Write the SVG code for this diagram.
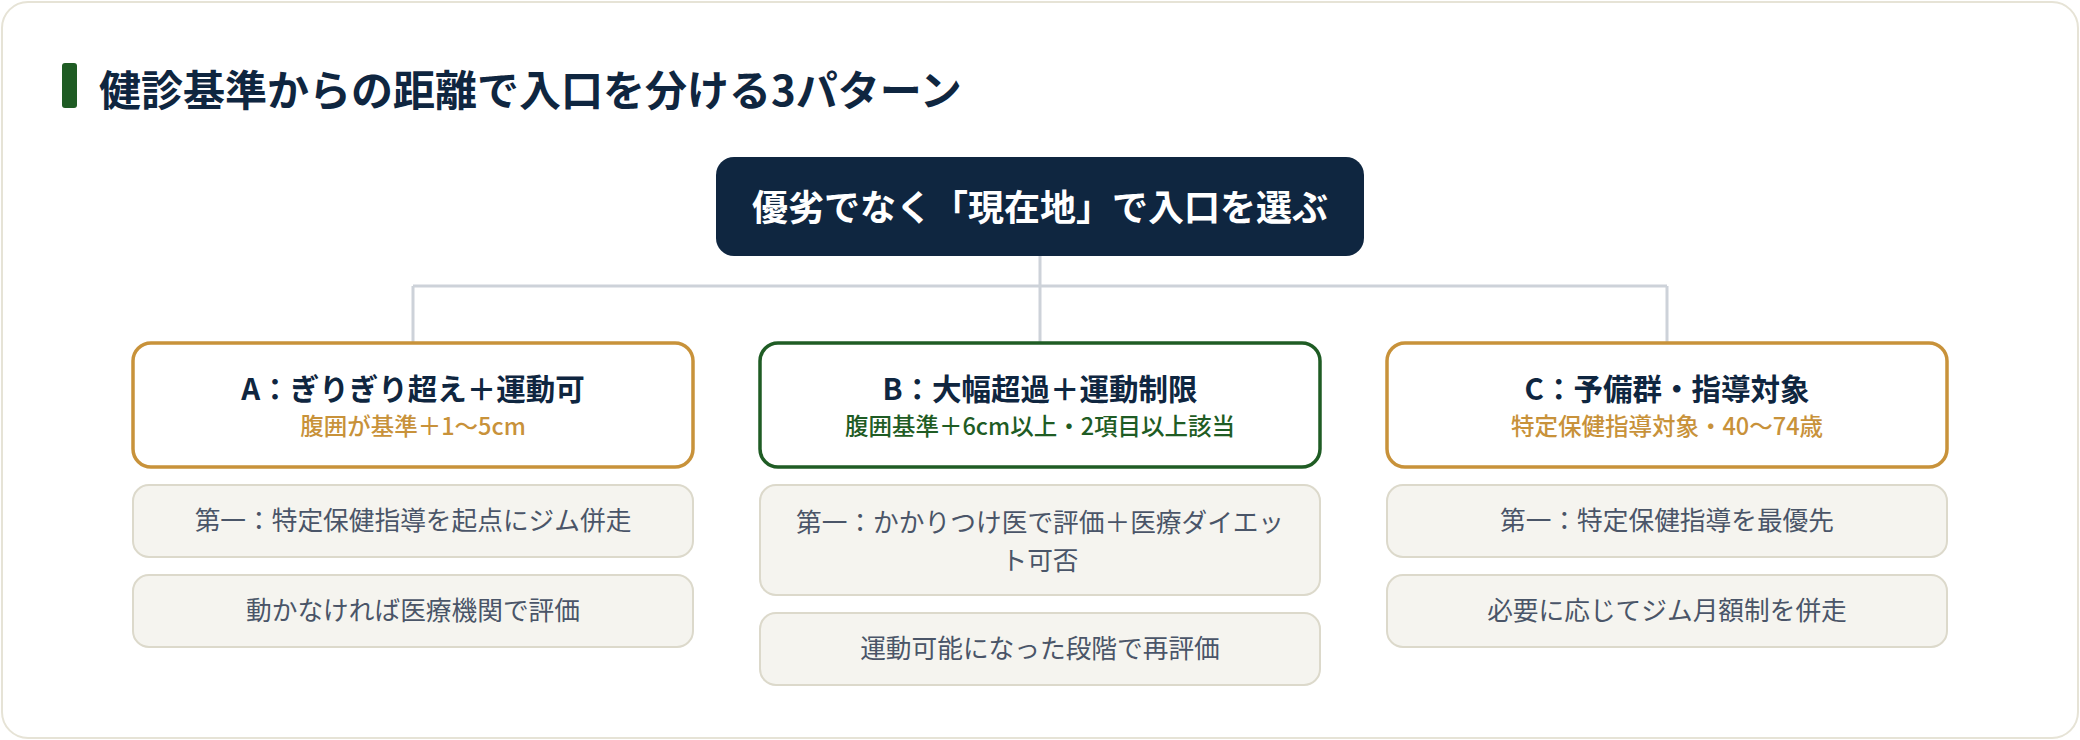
<svg xmlns="http://www.w3.org/2000/svg" width="2080" height="740" viewBox="0 0 2080 740">
<style>
text{font-family:"Noto Sans CJK JP","Noto Sans",sans-serif;text-anchor:middle}
.title{font-size:42px;font-weight:700;fill:#0f2640;text-anchor:start}
.root-box{fill:#0f2640}
.root-text{font-size:36px;font-weight:700;fill:#ffffff}
.node{fill:#ffffff;stroke-width:3.5}
.gold{stroke:#c8923a}
.green{stroke:#1f5c24}
.head{font-size:29.5px;font-weight:700;fill:#0f2640}
.sub{font-size:23.5px;font-weight:500}
.sub-gold{fill:#c8923a}
.sub-green{fill:#1f5c24}
.detail{fill:#f5f4ef;stroke:#dcd9cb;stroke-width:2}
.dtext{font-size:25.7px;font-weight:400;fill:#4a5568}
.conn{stroke:#cdd2d9;stroke-width:3;fill:none}
</style>
<rect x="0" y="0" width="2080" height="740" fill="#ffffff"/>
<rect x="2" y="2" width="2076" height="736" rx="26" fill="#ffffff" stroke="#e6e3d6" stroke-width="2"/>
<g id="title">
<rect x="62" y="63" width="15" height="45" rx="3" fill="#1f5c24"/>
<text class="title" x="99" y="106">健診基準からの距離で入口を分ける3パターン</text>
</g>
<g id="connectors">
<path class="conn" d="M1040 256 V286 M413 286 H1667 M413 286 V342 M1040 286 V342 M1667 286 V342"/>
</g>
<g id="root">
<rect class="root-box" x="716" y="157" width="648" height="99" rx="18"/>
<text class="root-text" x="1040" y="221">優劣でなく「現在地」で入口を選ぶ</text>
</g>
<g id="nodeA">
<rect class="node gold" x="133" y="343" width="560" height="124" rx="18"/>
<text class="head" x="413" y="400">A：ぎりぎり超え＋運動可</text>
<text class="sub sub-gold" x="413" y="435">腹囲が基準＋1〜5cm</text>
</g>
<g id="nodeA-d1">
<rect class="detail" x="133" y="485" width="560" height="72" rx="16"/>
<text class="dtext" x="413" y="530">第一：特定保健指導を起点にジム併走</text>
</g>
<g id="nodeA-d2">
<rect class="detail" x="133" y="575" width="560" height="72" rx="16"/>
<text class="dtext" x="413" y="620">動かなければ医療機関で評価</text>
</g>
<g id="nodeB">
<rect class="node green" x="760" y="343" width="560" height="124" rx="18"/>
<text class="head" x="1040" y="400">B：大幅超過＋運動制限</text>
<text class="sub sub-green" x="1040" y="435">腹囲基準＋6cm以上・2項目以上該当</text>
</g>
<g id="nodeB-d1">
<rect class="detail" x="760" y="485" width="560" height="110" rx="16"/>
<text class="dtext" x="1040" y="532">第一：かかりつけ医で評価＋医療ダイエッ</text>
<text class="dtext" x="1040" y="570">ト可否</text>
</g>
<g id="nodeB-d2">
<rect class="detail" x="760" y="613" width="560" height="72" rx="16"/>
<text class="dtext" x="1040" y="658">運動可能になった段階で再評価</text>
</g>
<g id="nodeC">
<rect class="node gold" x="1387" y="343" width="560" height="124" rx="18"/>
<text class="head" x="1667" y="400">C：予備群・指導対象</text>
<text class="sub sub-gold" x="1667" y="435">特定保健指導対象・40〜74歳</text>
</g>
<g id="nodeC-d1">
<rect class="detail" x="1387" y="485" width="560" height="72" rx="16"/>
<text class="dtext" x="1667" y="530">第一：特定保健指導を最優先</text>
</g>
<g id="nodeC-d2">
<rect class="detail" x="1387" y="575" width="560" height="72" rx="16"/>
<text class="dtext" x="1667" y="620">必要に応じてジム月額制を併走</text>
</g>
</svg>
